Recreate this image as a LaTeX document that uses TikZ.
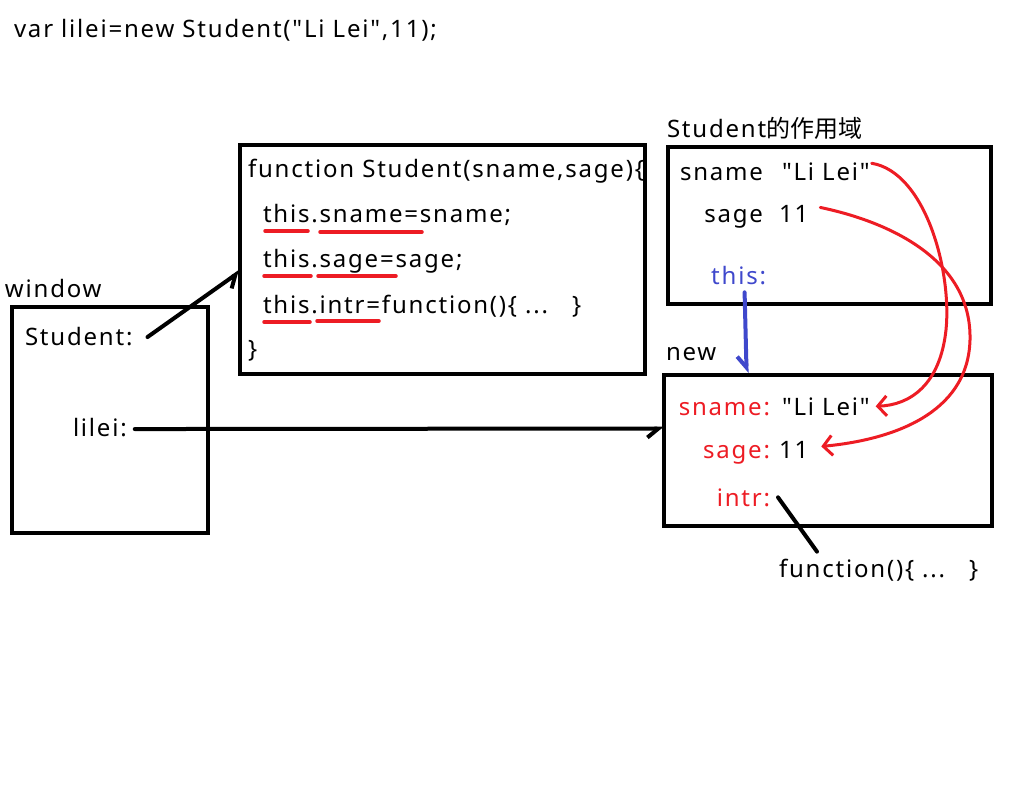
\documentclass[tikz,border=0pt]{standalone}
\usepackage{fontspec}
\setmainfont{Noto Sans}[LetterSpace=7.5, Ligatures=TeXOff]
\newfontfamily\cjk{Noto Sans CJK SC}
\usetikzlibrary{arrows.meta,calc}
\definecolor{memRed}{HTML}{ED1C24}
\definecolor{memBlue}{HTML}{3F48CC}
\tikzset{
  mem diagram/.style={
    x=1pt, y=-1pt, line width=4pt, line cap=round,
    every node/.style={font=\fontsize{24}{28}\selectfont,
      text=black, inner sep=0pt, outer sep=0pt}
  },
  mem box/.style={draw=black, line width=4pt, line cap=butt},
  mem label/.style={anchor=base west},
  mem key/.style={anchor=base east},
  mem ref/.style={-{Straight Barb[harpoon,swap,length=11pt,width=18pt]}},
  mem copy/.style={draw=memRed, line width=3pt,
    -{Straight Barb[length=9pt,width=20pt]}},
  mem mark/.style={draw=memRed, line width=3.5pt}
}

\begin{document}
\begin{tikzpicture}[mem diagram]
  \useasboundingbox (0,0) rectangle (1018,790);
  \node[mem label] (call) at (14,37) {var lilei=new Student("Li Lei",11);};

  % window
  \node[mem label] (winlbl) at (5,297) {window};
  \node[mem box, minimum width=196pt, minimum height=226pt] (window) at (110,420) {};
  \node[mem label] (student) at (25,345) {Student:};
  \node[mem label] (lilei) at (73,436) {lilei:};

  % the constructor
  \node[mem box, minimum width=405pt, minimum height=229pt] (codebox) at (442.5,259.5) {};
  \node[mem label] (code1) at (248,177) {function Student(sname,sage)\{};
  \node[mem label] (code2) at (263,222) {this.sname=sname;};
  \node[mem label] (code3) at (263,267) {this.sage=sage;};
  \node[mem label] (code4) at (263,313) {this.intr=function()\{ ...~~~\}};
  \node[mem label] (code5) at (248,357) {\}};
  \draw[mem mark] (265,231) -- (308,231) (320,232) -- (422,232);
  \draw[mem mark] (264,276) -- (311,276) (318,276) -- (396,276);
  \draw[mem mark] (264,322) -- (310,322) (317,321) -- (379,321);

  % scope of Student
  \node[mem label] (scopelbl) at (667,137) {Student{\cjk 的作用域}};
  \node[mem box, minimum width=323pt, minimum height=157pt] (scope) at (829.5,225.5) {};
  \node[mem key] (sname) at (763,180) {sname};
  \node[mem label] (snameval) at (782,180) {"Li Lei"};
  \node[mem key] (sage) at (763,222) {sage};
  \node[mem label] (sageval) at (779,222) {11};
  \node[mem key, text=memBlue] (this) at (766,284) {this:};

  % new object
  \node[mem label] (newlbl) at (666,360) {new};
  \node[mem box, minimum width=328pt, minimum height=151pt] (newbox) at (828,450.5) {};
  \node[mem key, text=memRed] (nsname) at (770,415) {sname:};
  \node[mem label] (nsnameval) at (782,415) {"Li Lei"};
  \node[mem key, text=memRed] (nsage) at (770,458) {sage:};
  \node[mem label] (nsageval) at (779,458) {11};
  \node[mem key, text=memRed] (nintr) at (770,506) {intr:};
  \node[mem label] (fn) at (779,577) {function()\{ ...~~~\}};

  % references
  \draw[mem ref] ($(student.east)+(15,1)$) -- ($(codebox.west)+(0,12)$);
  \draw[mem ref] ($(lilei.east)+(8,2)$) -- ($(newbox.west)+(0,-22)$);
  \draw[mem ref, draw=memBlue] ($(this.south)+(6,8)$) -- ($(this.south |- newbox.north)+(8,-2)$);
  \draw ($(nintr.east)+(8,0)$) -- ($(fn.north west)+(38,-7)$);

  % copied values
  \draw[mem copy] ($(snameval.east)+(2,-8)$)
    .. controls (925,172) and (952,270) .. (946,330)
    .. controls (940,385) and (910,405) .. ($(nsnameval.east)+(6,0)$);
  \draw[mem copy] ($(sageval.east)+(12,-6)$)
    .. controls (890,222) and (972,260) .. (970,340)
    .. controls (968,415) and (890,440) .. ($(nsageval.east)+(13,-3)$);
\end{tikzpicture}
\end{document}
